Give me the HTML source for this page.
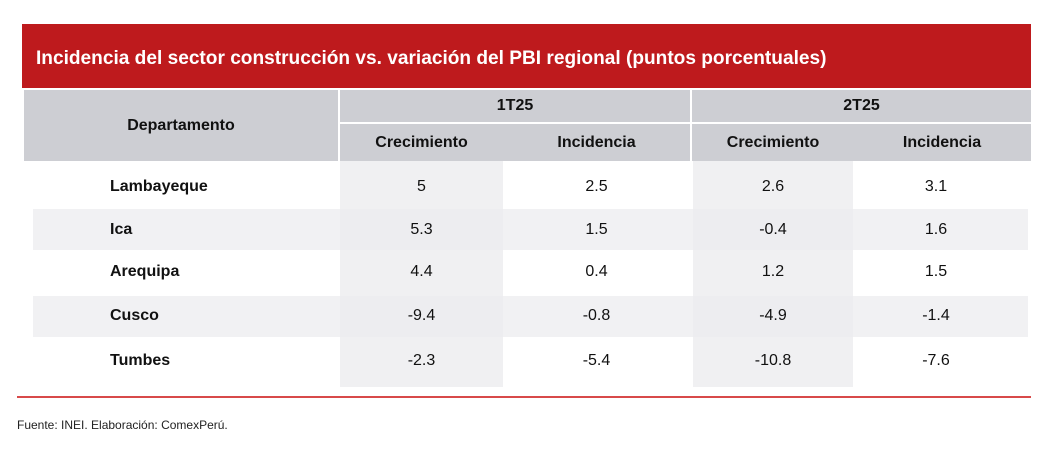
<!DOCTYPE html>
<html><head><style>
body{margin:0;width:1063px;height:451px;background:#fff;font-family:"Liberation Sans",Arial,sans-serif;position:relative;overflow:hidden}
div{position:absolute;box-sizing:border-box}
.t{display:flex;align-items:center;justify-content:center;font-size:16px;color:#111}
.b{font-weight:bold}
.g{background:#cdced3}
</style></head><body>
<div style="left:22px;top:24px;width:1009px;height:64px;background:#be1a1d"></div>
<div class="b" style="left:36px;top:48px;color:#fff;font-size:19.1px;">Incidencia del sector construcción vs. variación del PBI regional (puntos porcentuales)</div>
<div class="g t b" style="left:24px;top:90px;width:314px;height:71px;">Departamento</div>
<div class="g t b" style="left:340px;top:90px;width:350px;height:32px;">1T25</div>
<div class="g t b" style="left:692px;top:90px;width:339px;height:32px;">2T25</div>
<div class="g" style="left:340px;top:124px;width:691px;height:37px;"></div>
<div style="left:690px;top:124px;width:2px;height:37px;background:#fff"></div>
<div style="left:33px;top:209px;width:995px;height:41px;background:#f1f1f3"></div>
<div style="left:33px;top:296px;width:995px;height:41px;background:#f1f1f3"></div>
<div style="left:340px;top:161px;width:163px;height:226px;background:#ececef;opacity:.8"></div>
<div style="left:693px;top:161px;width:160px;height:226px;background:#ececef;opacity:.8"></div>
<div class="t b" style="left:340px;top:124px;width:163px;height:37px;">Crecimiento</div>
<div class="t b" style="left:503px;top:124px;width:187px;height:37px;">Incidencia</div>
<div class="t b" style="left:693px;top:124px;width:160px;height:37px;">Crecimiento</div>
<div class="t b" style="left:853px;top:124px;width:178px;height:37px;">Incidencia</div>

<div class="b" style="left:110px;top:178px;font-size:16px;color:#111">Lambayeque</div>
<div class="b" style="left:110px;top:221px;font-size:16px;color:#111">Ica</div>
<div class="b" style="left:110px;top:263px;font-size:16px;color:#111">Arequipa</div>
<div class="b" style="left:110px;top:307px;font-size:16px;color:#111">Cusco</div>
<div class="b" style="left:110px;top:352px;font-size:16px;color:#111">Tumbes</div>

<div class="t" style="left:340px;top:172px;width:163px;height:30px">5</div>
<div class="t" style="left:503px;top:172px;width:187px;height:30px">2.5</div>
<div class="t" style="left:693px;top:172px;width:160px;height:30px">2.6</div>
<div class="t" style="left:853px;top:172px;width:166px;height:30px">3.1</div>

<div class="t" style="left:340px;top:215px;width:163px;height:30px">5.3</div>
<div class="t" style="left:503px;top:215px;width:187px;height:30px">1.5</div>
<div class="t" style="left:693px;top:215px;width:160px;height:30px">-0.4</div>
<div class="t" style="left:853px;top:215px;width:166px;height:30px">1.6</div>

<div class="t" style="left:340px;top:257px;width:163px;height:30px">4.4</div>
<div class="t" style="left:503px;top:257px;width:187px;height:30px">0.4</div>
<div class="t" style="left:693px;top:257px;width:160px;height:30px">1.2</div>
<div class="t" style="left:853px;top:257px;width:166px;height:30px">1.5</div>

<div class="t" style="left:340px;top:301px;width:163px;height:30px">-9.4</div>
<div class="t" style="left:503px;top:301px;width:187px;height:30px">-0.8</div>
<div class="t" style="left:693px;top:301px;width:160px;height:30px">-4.9</div>
<div class="t" style="left:853px;top:301px;width:166px;height:30px">-1.4</div>

<div class="t" style="left:340px;top:346px;width:163px;height:30px">-2.3</div>
<div class="t" style="left:503px;top:346px;width:187px;height:30px">-5.4</div>
<div class="t" style="left:693px;top:346px;width:160px;height:30px">-10.8</div>
<div class="t" style="left:853px;top:346px;width:166px;height:30px">-7.6</div>

<div style="left:17px;top:396px;width:1014px;height:2px;background:#d84a4a"></div>
<div style="left:17px;top:418px;font-size:12px;color:#222">Fuente: INEI. Elaboración: ComexPerú.</div>
</body></html>
